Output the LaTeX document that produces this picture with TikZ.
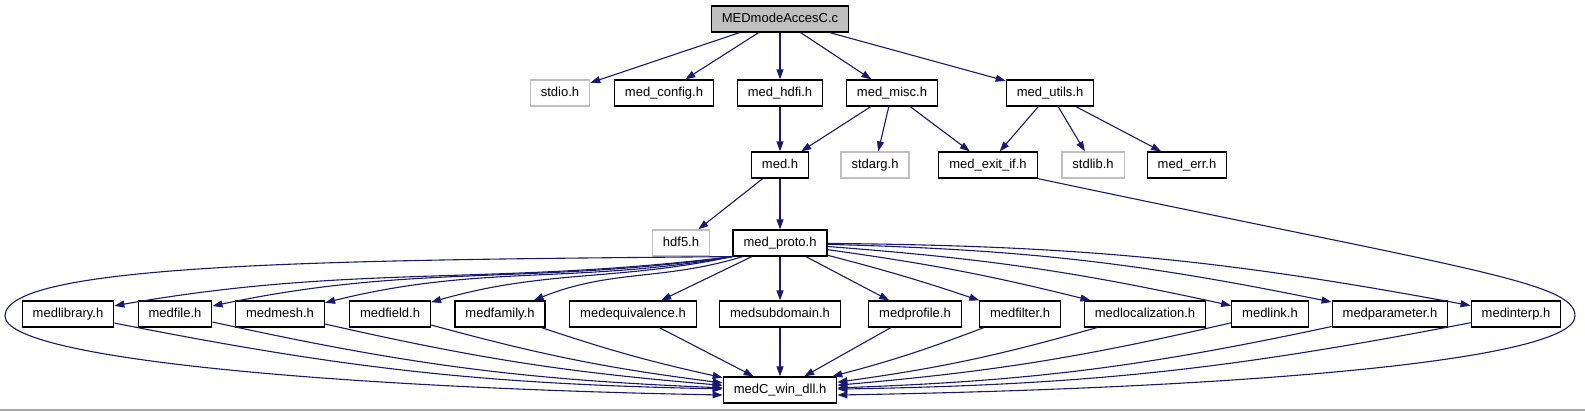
\documentclass[tikz,border=0pt]{standalone}
\usepackage{fontspec}
\setmainfont{Liberation Sans}
\usetikzlibrary{arrows.meta}
\definecolor{depblue}{HTML}{191970}
\definecolor{sysgrey}{HTML}{BFBFBF}
\definecolor{srcfill}{HTML}{BFBFBF}
\definecolor{framegrey}{HTML}{A6A6A6}

\begin{document}
\begin{tikzpicture}[x=1pt, y=-1pt,
        hdr/.style={rectangle, draw=black, line width=1.2pt, minimum
        height=26pt, inner xsep=10.5pt, inner ysep=0pt, text height=9.5pt,
        text depth=3pt, font=\fontsize{13}{15}\selectfont},
        sys/.style={hdr, draw=sysgrey},
        src/.style={hdr, fill=srcfill},
        dep/.style={-{Triangle[length=10pt, width=7pt]}, line width=1.1pt, depblue},
      ]
      \useasboundingbox (0,0) rectangle (1585,411);

      \node[src] (src) at (780, 19) {MEDmodeAccesC.c};

      \node[sys] (stdio) at (560, 93) {stdio.h};
      \node[hdr] (config) at (664, 93) {med\_config.h};
      \node[hdr] (hdfi) at (780, 93) {med\_hdfi.h};
      \node[hdr] (misc) at (892, 93) {med\_misc.h};
      \node[hdr] (utils) at (1050, 93) {med\_utils.h};

      \node[hdr] (med) at (780, 165) {med.h};
      \node[sys] (stdarg) at (875, 165) {stdarg.h};
      \node[hdr] (exitif) at (988, 165) {med\_exit\_if.h};
      \node[sys] (stdlib) at (1093, 165) {stdlib.h};
      \node[hdr] (err) at (1187, 165) {med\_err.h};

      \node[sys] (hdf) at (681, 243) {hdf5.h};
      \node[hdr] (proto) at (780, 243) {med\_proto.h};

      \node[hdr] (lib) at (68, 314) {medlibrary.h};
      \node[hdr] (file) at (175, 314) {medfile.h};
      \node[hdr] (mesh) at (280, 314) {medmesh.h};
      \node[hdr] (field) at (390, 314) {medfield.h};
      \node[hdr] (family) at (500, 314) {medfamily.h};
      \node[hdr] (equiv) at (633, 314) {medequivalence.h};
      \node[hdr] (subdom) at (780, 314) {medsubdomain.h};
      \node[hdr] (profile) at (915, 314) {medprofile.h};
      \node[hdr] (filter) at (1020, 314) {medfilter.h};
      \node[hdr] (loc) at (1145, 314) {medlocalization.h};
      \node[hdr] (link) at (1270, 314) {medlink.h};
      \node[hdr] (param) at (1390, 314) {medparameter.h};
      \node[hdr] (interp) at (1516, 314) {medinterp.h};

      \node[hdr] (dll) at (780, 390) {medC\_win\_dll.h};

      \coordinate (lbend) at (5, 316);
      \coordinate (rbend) at (1575, 316);

      \draw[dep] (src) -- (stdio);
      \draw[dep] (src) -- (config);
      \draw[dep] (src) -- (hdfi);
      \draw[dep] (src) -- (misc);
      \draw[dep] (src) -- (utils);

      \draw[dep] (hdfi) -- (med);
      \draw[dep] (misc) -- (med);
      \draw[dep] (misc) -- (stdarg);
      \draw[dep] (misc) -- (exitif);
      \draw[dep] (utils) -- (exitif);
      \draw[dep] (utils) -- (stdlib);
      \draw[dep] (utils) -- (err);

      \draw[dep] (med) -- (hdf);
      \draw[dep] (med) -- (proto);

      \draw[dep] (proto.south west) to[out=187, in=10] (lib);
      \draw[dep] (proto.south west) to[out=188, in=12] (file);
      \draw[dep] (proto.south west) to[out=190, in=14] (mesh);
      \draw[dep] (proto.south west) to[out=192, in=16] (field);
      \draw[dep] (proto.200) to[out=197, in=22] (family);
      \draw[dep] (proto) -- (equiv);
      \draw[dep] (proto) -- (subdom);
      \draw[dep] (proto) -- (profile);
      \draw[dep] (proto) to[bend left=2] (filter);
      \draw[dep] (proto) to[bend left=3] (loc);
      \draw[dep] (proto) to[bend left=4] (link);
      \draw[dep] (proto) to[bend left=5] (param);
      \draw[dep] (proto) to[bend left=5] (interp);

      \draw[dep] (lib) to[bend right=5] (dll);
      \draw[dep] (file) to[bend right=5] (dll);
      \draw[dep] (mesh) to[bend right=4] (dll);
      \draw[dep] (field) to[bend right=4] (dll);
      \draw[dep] (family) to[bend right=3] (dll);
      \draw[dep] (equiv) -- (dll);
      \draw[dep] (subdom) -- (dll);
      \draw[dep] (profile) -- (dll);
      \draw[dep] (filter) to[bend left=3] (dll);
      \draw[dep] (loc) to[bend left=4] (dll);
      \draw[dep] (link) to[bend left=4] (dll);
      \draw[dep] (param) to[bend left=5] (dll);
      \draw[dep] (interp) to[bend left=5] (dll);

      \draw[dep] (proto.south west) .. controls (350, 260) and (5, 262) .. (lbend)
      .. controls (5, 360) and (350, 388) .. (dll.185);
      \draw[dep] (exitif.south east) .. controls (1470, 270) and (1575, 282)
      .. (rbend) .. controls (1575, 360) and (1250, 388) .. (dll.-5);

      \draw[framegrey, line width=1.5pt] (0, 410) -- (1585, 410);
    \end{tikzpicture}
\end{document}
